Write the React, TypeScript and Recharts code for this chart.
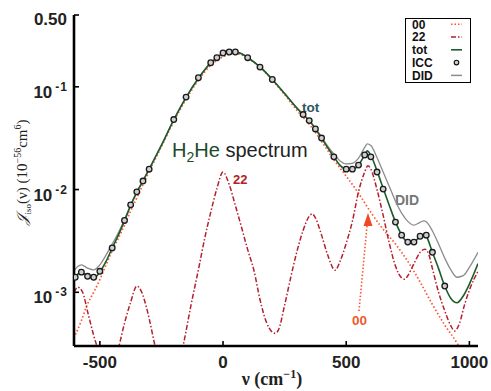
import React from 'react';
import { ComposedChart, Line, Scatter, XAxis, YAxis, Legend, Customized } from 'recharts';

// ---- data (wavenumber in cm^-1, intensity in 1e-56 cm^6) ----
const TOT_X = [-605, -590, -575, -550, -525, -500, -475, -450, -425, -400, -375, -350, -325, -300, -250, -200, -150, -100, -50, -25, 0, 25, 50, 75, 100, 150, 200, 250, 300, 325, 350, 375, 400, 425, 450, 475, 500, 525, 550, 575, 585, 600, 625, 650, 675, 700, 725, 750, 775, 800, 815, 825, 850, 875, 900, 925, 950, 975, 1000, 1035];
const TOT_Y = [1.36e-3, 1.5e-3, 1.56e-3, 1.42e-3, 1.36e-3, 1.58e-3, 2.0e-3, 2.69e-3, 3.6e-3, 4.95e-3, 7.0e-3, 9.4e-3, 0.0121, 0.0158, 0.027, 0.0477, 0.079, 0.121, 0.171, 0.192, 0.212, 0.218, 0.219, 0.21, 0.193, 0.156, 0.118, 0.086, 0.062, 0.0537, 0.0469, 0.0389, 0.0317, 0.0255, 0.0208, 0.0172, 0.0157, 0.0156, 0.0173, 0.0218, 0.0238, 0.0215, 0.0152, 0.0103, 0.007, 4.85e-3, 3.62e-3, 3.08e-3, 3.08e-3, 3.5e-3, 3.62e-3, 3.5e-3, 2.45e-3, 1.7e-3, 1.15e-3, 8.7e-4, 7.9e-4, 9.2e-4, 1.2e-3, 1.9e-3];

const DID_Y = [1.62e-3, 1.78e-3, 1.85e-3, 1.72e-3, 1.65e-3, 1.85e-3, 2.3e-3, 2.95e-3, 3.8e-3, 5.1e-3, 7.1e-3, 9.5e-3, 0.0122, 0.0159, 0.027, 0.0478, 0.079, 0.121, 0.171, 0.192, 0.212, 0.218, 0.219, 0.21, 0.193, 0.156, 0.118, 0.086, 0.062, 0.054, 0.0472, 0.0395, 0.0325, 0.0265, 0.0222, 0.019, 0.0178, 0.018, 0.0202, 0.0257, 0.0278, 0.0268, 0.0205, 0.0148, 0.0107, 7.7e-3, 5.9e-3, 4.9e-3, 4.5e-3, 4.8e-3, 4.95e-3, 4.85e-3, 3.95e-3, 2.95e-3, 2.15e-3, 1.65e-3, 1.4e-3, 1.45e-3, 1.75e-3, 2.45e-3];

const X_00 = [-605, -575, -550, -525, -500, -475, -450, -425, -400, -375, -350, -325, -300, -250, -200, -150, -100, -50, 0, 25, 50, 75, 100, 150, 200, 250, 300, 350, 400, 450, 500, 550, 600, 650, 700, 750, 800, 850, 900, 950, 1000];
const Y_00 = [3.6e-4, 5.3e-4, 7.7e-4, 1.0e-3, 1.33e-3, 1.85e-3, 2.53e-3, 3.35e-3, 4.5e-3, 6.2e-3, 8.3e-3, 0.0112, 0.0150, 0.0262, 0.046, 0.076, 0.116, 0.162, 0.196, 0.207, 0.211, 0.205, 0.19, 0.156, 0.116, 0.084, 0.059, 0.0432, 0.0295, 0.0195, 0.0135, 9.2e-3, 6.0e-3, 4.1e-3, 2.95e-3, 2.0e-3, 1.26e-3, 7.6e-4, 4.8e-4, 3.2e-4, 1.9e-4];

const X_22 = [-605, -590, -570, -550, -525, -500, -475, -450, -422, -400, -375, -350, -330, -310, -276, -250, -215, -190, -162, -130, -97, -75, -50, -25, 0, 25, 50, 75, 100, 125, 150, 175, 200, 211, 225, 250, 275, 300, 325, 350, 362, 375, 400, 425, 455, 475, 500, 525, 550, 575, 588, 600, 625, 650, 675, 700, 725, 738, 750, 775, 800, 819, 835, 850, 875, 900, 925, 940, 960, 980, 1000, 1035];
const Y_22 = [1.0e-3, 1.12e-3, 1.0e-3, 6.5e-4, 3.8e-4, 2.4e-4, 1.4e-4, 1.6e-4, 3.0e-4, 5.0e-4, 8.0e-4, 1.15e-3, 1.0e-3, 7.0e-4, 3.0e-4, 1.6e-4, 1.0e-4, 1.5e-4, 3.0e-4, 7.5e-4, 1.8e-3, 3.3e-3, 6.0e-3, 0.0102, 0.0148, 0.0112, 7.0e-3, 4.3e-3, 2.6e-3, 1.65e-3, 8.5e-4, 5.2e-4, 4.1e-4, 4.0e-4, 4.3e-4, 7.5e-4, 1.4e-3, 2.5e-3, 4.0e-3, 5.5e-3, 5.8e-3, 5.3e-3, 3.6e-3, 2.3e-3, 1.64e-3, 2.0e-3, 3.0e-3, 4.9e-3, 9.5e-3, 0.0148, 0.017, 0.0158, 0.01, 5.6e-3, 3.0e-3, 1.8e-3, 1.38e-3, 1.34e-3, 1.45e-3, 1.9e-3, 2.45e-3, 2.63e-3, 2.35e-3, 1.7e-3, 1.0e-3, 6.6e-4, 4.7e-4, 4.2e-4, 5.0e-4, 7.5e-4, 1.05e-3, 1.6e-3];

const ICC_X = [-600, -575, -550, -525, -500, -450, -400, -375, -350, -325, -300, -200, -150, -100, -50, -25, 0, 25, 50, 100, 150, 200, 325, 350, 375, 400, 450, 500, 525, 550, 575, 600, 625, 650, 700, 725, 750, 775, 800, 825, 850, 900];
const ICC_Y = [1.4e-3, 1.57e-3, 1.43e-3, 1.4e-3, 1.6e-3, 2.7e-3, 5.0e-3, 7.1e-3, 9.5e-3, 0.0121, 0.0158, 0.048, 0.0794, 0.1225, 0.1714, 0.192, 0.2133, 0.2183, 0.2183, 0.192, 0.1556, 0.1178, 0.0537, 0.0469, 0.0389, 0.0317, 0.0208, 0.0158, 0.0158, 0.0173, 0.0217, 0.0208, 0.0148, 0.0101, 4.82e-3, 3.6e-3, 3.08e-3, 3.08e-3, 3.51e-3, 3.6e-3, 2.45e-3, 1.15e-3];

const X_TICKS = [-500, 0, 500, 1000];
const Y_TICKS = [0.001, 0.01, 0.1, 0.5];
const X_DOMAIN = [-605, 1035];
const Y_DOMAIN = [3e-4, 0.5];
const LEGEND_NAMES = ['00', '22', 'tot', 'ICC', 'DID'];

// ---- styling ----
const SANS = '"Liberation Sans", Arial, Helvetica, sans-serif';
const SERIF = '"Liberation Serif", "DejaVu Serif", serif';
const C00 = '#ff5232';
const C22 = '#b3202c';
const CTOT = '#1d5c2c';
const CDID = '#8c8c8c';

const toPoints = (xs: number[], ys: number[]) => xs.map((v, i) => ({ v, y: ys[i] }));
const pts00 = toPoints(X_00, Y_00);
const pts22 = toPoints(X_22, Y_22);
const ptsTot = toPoints(TOT_X, TOT_Y);
const ptsDid = toPoints(TOT_X, DID_Y);
const ptsIcc = toPoints(ICC_X, ICC_Y);

function XTickBottom(props: any) {
  const { x, y, payload } = props;
  return (
    <g>
      <line x1={x} x2={x} y1={y} y2={y - 5} stroke="#000" strokeWidth={1.6} />
      <text x={x} y={y + 22} textAnchor="middle" fontFamily={SANS} fontWeight="bold" fontSize={17} fill="#222">
        {String(payload.value)}
      </text>
    </g>
  );
}

function XTickTop(props: any) {
  const { x, y } = props;
  return <line x1={x} x2={x} y1={y} y2={y + 5} stroke="#000" strokeWidth={1.6} />;
}

function YTickLeft(props: any) {
  const { x, y, payload } = props;
  const v = payload.value as number;
  const isPow = Math.abs(Math.log10(v) - Math.round(Math.log10(v))) < 1e-6;
  return (
    <g>
      <line x1={x} x2={x + 5} y1={y} y2={y} stroke="#000" strokeWidth={1.6} />
      {isPow ? (
        <text x={x - 7} y={y + 11} textAnchor="end" fontFamily={SANS} fontWeight="bold" fontSize={17} fill="#222">
          10
          <tspan dx={3} dy={-7} fontSize={12}>-</tspan>
          <tspan dx={1} fontSize={12}>{String(-Math.round(Math.log10(v)))}</tspan>
        </text>
      ) : (
        <text x={x - 7} y={y + 10} textAnchor="end" fontFamily={SANS} fontWeight="bold" fontSize={17} fill="#222">
          {v.toFixed(2)}
        </text>
      )}
    </g>
  );
}

function YTickRight(props: any) {
  const { x, y } = props;
  return <line x1={x} x2={x - 5} y1={y} y2={y} stroke="#000" strokeWidth={1.6} />;
}

function IccDot(props: any) {
  const { cx, cy } = props;
  if (cx == null || cy == null) return null;
  return <circle cx={cx} cy={cy} r={2.8} fill="#cfcfcf" stroke="#1a1a1a" strokeWidth={1.3} />;
}

function LegendBox() {
  return (
    <svg width={66} height={65} style={{ display: 'block' }}>
      <rect x={0.5} y={0.5} width={65} height={64} fill="#fff" stroke="#000" strokeWidth={1} />
      {LEGEND_NAMES.map((n, i) => {
        const cy = 6.2 + i * 12.8;
        let sym: React.ReactNode = null;
        if (n === '00') sym = <line x1={46} x2={57} y1={cy} y2={cy} stroke={C00} strokeWidth={1.5} strokeDasharray="1.5 2" />;
        if (n === '22') sym = <line x1={46} x2={57} y1={cy} y2={cy} stroke={C22} strokeWidth={1.5} strokeDasharray="5 2 1.5 2" />;
        if (n === 'tot') sym = <line x1={46} x2={57} y1={cy} y2={cy} stroke={CTOT} strokeWidth={1.6} />;
        if (n === 'ICC') sym = <circle cx={51.5} cy={cy} r={2.3} fill="#cfcfcf" stroke="#111" strokeWidth={1.1} />;
        if (n === 'DID') sym = <line x1={46} x2={57} y1={cy} y2={cy} stroke={CDID} strokeWidth={1.5} />;
        return (
          <g key={n}>
            <text x={7} y={cy + 4.3} fontFamily={SANS} fontWeight="bold" fontSize={12} fill="#111">{n}</text>
            {sym}
          </g>
        );
      })}
    </svg>
  );
}

function Annotations() {
  return (
    <g>
      <text x={172} y={157} fontFamily={SANS} fontSize={20}>
        <tspan fill="#1a4a28">H</tspan>
        <tspan fill="#1a4a28" fontSize={14} dy={5}>2</tspan>
        <tspan fill="#1a4a28" dy={-5}>He</tspan>
        <tspan fill="#222"> spectrum</tspan>
      </text>
      <text x={302} y={112} fontFamily={SANS} fontWeight="bold" fontSize={13.5} fill="#2e5560">tot</text>
      <text x={233} y={184} fontFamily={SANS} fontWeight="bold" fontSize={13} fill="#b22222">22</text>
      <text x={395} y={205} fontFamily={SANS} fontWeight="bold" fontSize={14} fill="#777">DID</text>
      <text x={352} y={325} fontFamily={SANS} fontWeight="bold" fontSize={13.5} fill="#ef5a2e">00</text>
      <line x1={359} y1={311} x2={367} y2={226} stroke={C00} strokeWidth={1.6} strokeDasharray="1.5 2" />
      <polygon points="368,213 363.5,226 372.5,226" fill="#ef4a25" />
      <text transform="translate(27,172) rotate(-90)" textAnchor="middle" fontFamily={SERIF} fontSize={15} fill="#222">
        <tspan fontStyle="italic">𝒥</tspan>
        <tspan fontSize={9} dy={4}>iso</tspan>
        <tspan dy={-4}>(ν) (10</tspan>
        <tspan fontSize={10} dy={-6}>−56</tspan>
        <tspan dy={6}>cm</tspan>
        <tspan fontSize={10} dy={-6}>6</tspan>
        <tspan dy={6}>)</tspan>
      </text>
      <text x={272} y={385} textAnchor="middle" fontFamily={SERIF} fontWeight="bold" fontSize={18} fill="#222">
        ν (cm
        <tspan fontSize={12} dy={-7}>−1</tspan>
        <tspan dy={7}>)</tspan>
      </text>
    </g>
  );
}

export default function App() {
  return (
    <>
      <style>{'body{margin:0;overflow:hidden;background:#fff}'}</style>
      <ComposedChart width={491} height={391} margin={{ top: 15, right: 13, bottom: 0, left: 0 }}>
        <XAxis
          xAxisId="b"
          dataKey="v"
          type="number"
          domain={X_DOMAIN}
          allowDataOverflow
          ticks={X_TICKS}
          interval={0}
          height={45}
          tickSize={0}
          tickMargin={0}
          tickLine={false}
          tick={<XTickBottom />}
          axisLine={{ stroke: '#000', strokeWidth: 2.6 }}
        />
        <XAxis
          xAxisId="t"
          orientation="top"
          dataKey="v"
          type="number"
          domain={X_DOMAIN}
          allowDataOverflow
          ticks={X_TICKS}
          interval={0}
          height={0}
          tickSize={0}
          tickMargin={0}
          tickLine={false}
          tick={<XTickTop />}
          axisLine={{ stroke: '#000', strokeWidth: 2.2 }}
        />
        <YAxis
          yAxisId="l"
          type="number"
          scale="log"
          domain={Y_DOMAIN}
          allowDataOverflow
          ticks={Y_TICKS}
          interval={0}
          width={74}
          tickSize={0}
          tickMargin={0}
          tickLine={false}
          tick={<YTickLeft />}
          axisLine={{ stroke: '#000', strokeWidth: 2.6 }}
        />
        <YAxis
          yAxisId="r"
          orientation="right"
          type="number"
          scale="log"
          domain={Y_DOMAIN}
          allowDataOverflow
          ticks={Y_TICKS}
          interval={0}
          width={0}
          tickSize={0}
          tickMargin={0}
          tickLine={false}
          tick={<YTickRight />}
          axisLine={{ stroke: '#000', strokeWidth: 2.6 }}
        />
        <Line data={pts00} dataKey="y" xAxisId="b" yAxisId="l" type="monotone" stroke={C00} strokeWidth={1.7} strokeDasharray="1.5 2.2" dot={false} isAnimationActive={false} />
        <Line data={pts22} dataKey="y" xAxisId="b" yAxisId="l" type="monotone" stroke={C22} strokeWidth={1.5} strokeDasharray="5 2 1.5 2" dot={false} isAnimationActive={false} />
        <Line data={ptsDid} dataKey="y" xAxisId="b" yAxisId="l" type="monotone" stroke={CDID} strokeWidth={1.3} dot={false} isAnimationActive={false} />
        <Line data={ptsTot} dataKey="y" xAxisId="b" yAxisId="l" type="monotone" stroke={CTOT} strokeWidth={1.6} dot={false} isAnimationActive={false} />
        <Scatter data={ptsIcc} dataKey="y" xAxisId="b" yAxisId="l" shape={IccDot} isAnimationActive={false} />
        <Customized component={Annotations} />
        <Legend
          layout="vertical"
          align="center"
          verticalAlign="middle"
          content={() => <LegendBox />}
          wrapperStyle={{ position: 'absolute', left: 405, top: 18, width: 66, height: 65 }}
        />
      </ComposedChart>
    </>
  );
}
